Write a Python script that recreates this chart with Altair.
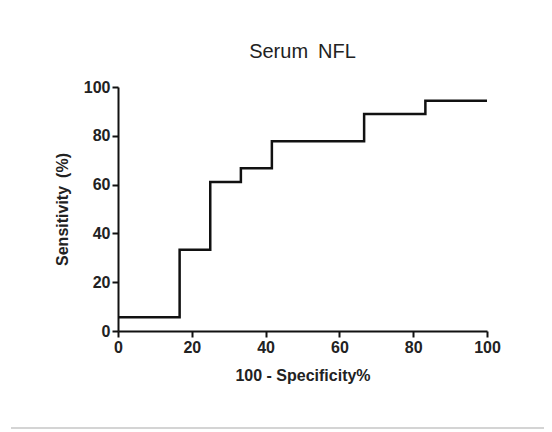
import altair as alt
import pandas as pd

fpr = [0, 16.7, 25, 33.3, 41.7, 66.7, 83.3, 100]
sens = [5.6, 33.3, 61.1, 66.7, 77.8, 88.9, 94.4, 94.4]
ticks = [0, 20, 40, 60, 80, 100]

df = pd.DataFrame({"fpr": fpr, "sens": sens})

W, H = 369, 244

line = alt.Chart(df).mark_line(interpolate="step-after", color="#111", strokeWidth=2.5).encode(
    x=alt.X("fpr:Q", scale=alt.Scale(domain=[0, 100], nice=False),
            axis=alt.Axis(title="100 - Specificity%", values=ticks, grid=False, labelFlush=False)),
    y=alt.Y("sens:Q", scale=alt.Scale(domain=[0, 100], nice=False),
            axis=alt.Axis(title="Sensitivity\u2002(%)", values=ticks, grid=False, labelFlush=False)),
)

sep = alt.Chart(pd.DataFrame({"a": [0]})).mark_rule(color="#d4d4d4", strokeWidth=2).encode(
    x=alt.value(-107), x2=alt.value(440), y=alt.value(341)
)

chart = alt.layer(line, sep).properties(
    width=W, height=H,
    title=alt.TitleParams("Serum\u2002NFL", fontSize=20, fontWeight="normal", font="Liberation Sans",
                          color="#222", offset=17, anchor="middle"),
    autosize=alt.AutoSizeParams(type="none"),
    padding={"left": 110, "top": 79, "right": 57, "bottom": 100},
).configure_view(stroke=None).configure_axis(
    domainColor="#111", domainWidth=2, tickColor="#111", tickWidth=2, tickSize=6,
    labelFont="Liberation Sans", labelFontWeight="bold", labelFontSize=16, labelColor="#222",
    titleFont="Liberation Sans", titleFontWeight="bold", titleFontSize=16, titleColor="#222",
    labelPadding=2,
).configure_axisX(titlePadding=12).configure_axisY(titlePadding=13)

chart.save("out.html", embed_options={"renderer": "svg", "actions": False})
